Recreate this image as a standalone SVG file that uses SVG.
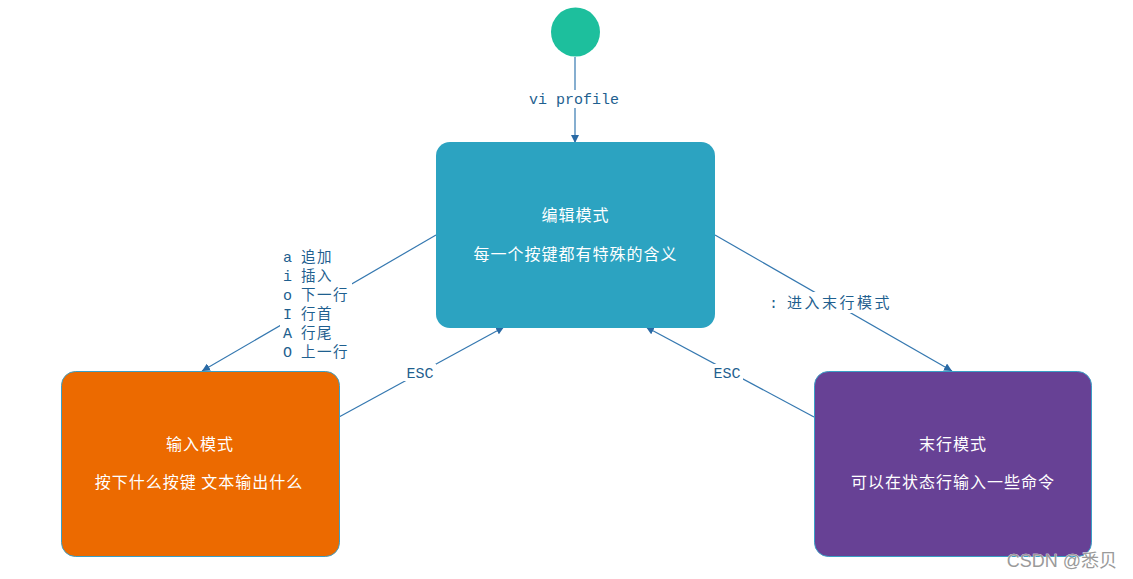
<svg xmlns="http://www.w3.org/2000/svg" width="1133" height="579" viewBox="0 0 1133 579">
<defs>
<style>
.edge{fill:none;stroke:#3578b0;stroke-width:1.2}
.lbl{font-family:"Liberation Mono","Noto Sans CJK SC",monospace;font-size:15px;fill:#1f5f8f}
.cjk{font-family:"Noto Sans CJK SC",sans-serif;font-size:14.5px;letter-spacing:1.5px}
.bg{fill:#ffffff}
.nt{font-family:"Noto Sans CJK SC",sans-serif;font-size:16px;fill:#ffffff;text-anchor:middle;letter-spacing:1px}
.box{stroke:#3a9fc6;stroke-width:1}
</style>
<marker id="arr" viewBox="0 0 10 10" refX="10" refY="5" markerWidth="8" markerHeight="8" markerUnits="userSpaceOnUse" orient="auto">
<path d="M0,0 L10,5 L0,10 z" fill="#2a6aa5"/>
</marker>
</defs>
<rect width="1133" height="579" fill="#ffffff"/>
<g id="connectors">
<line class="edge" x1="575" y1="57" x2="575" y2="143" marker-end="url(#arr)"/>
<rect class="bg" x="527" y="90" width="94" height="18"/>
<text class="lbl" x="574" y="104" text-anchor="middle">vi profile</text>
<line class="edge" x1="436" y1="235" x2="202" y2="371" marker-end="url(#arr)"/>
<rect class="bg" x="280" y="246" width="72" height="114"/>
<text class="lbl" x="283" y="262">a <tspan class="cjk">追加</tspan></text>
<text class="lbl" x="283" y="281">i <tspan class="cjk">插入</tspan></text>
<text class="lbl" x="283" y="300">o <tspan class="cjk">下一行</tspan></text>
<text class="lbl" x="283" y="319">I <tspan class="cjk">行首</tspan></text>
<text class="lbl" x="283" y="338">A <tspan class="cjk">行尾</tspan></text>
<text class="lbl" x="283" y="357">O <tspan class="cjk">上一行</tspan></text>
<line class="edge" x1="339" y1="417" x2="504" y2="327" marker-end="url(#arr)"/>
<rect class="bg" x="404" y="364" width="32" height="17"/>
<text class="lbl" x="420" y="378" text-anchor="middle">ESC</text>
<line class="edge" x1="715" y1="235" x2="952" y2="371" marker-end="url(#arr)"/>
<rect class="bg" x="766" y="292" width="130" height="21"/>
<text class="lbl" x="769" y="308">: <tspan class="cjk" style="letter-spacing:2.5px;font-size:15px">进入末行模式</tspan></text>
<line class="edge" x1="814" y1="417" x2="646" y2="327" marker-end="url(#arr)"/>
<rect class="bg" x="711" y="364" width="32" height="17"/>
<text class="lbl" x="727" y="378" text-anchor="middle">ESC</text>
</g>
<g id="start">
<circle cx="575.5" cy="32" r="24.5" fill="#1dbf9d"/>
</g>
<g id="edit">
<rect x="436" y="142" width="279" height="186" rx="14" fill="#2ca3c1"/>
<text class="nt" x="575.5" y="221">编辑模式</text>
<text class="nt" x="575.5" y="260">每一个按键都有特殊的含义</text>
</g>
<g id="input">
<rect class="box" x="61.5" y="371.5" width="278" height="185" rx="14" fill="#ec6a00"/>
<text class="nt" x="200" y="450">输入模式</text>
<text class="nt" x="199" y="488">按下什么按键 文本输出什么</text>
</g>
<g id="lastline">
<rect class="box" x="814.5" y="371.5" width="277" height="185" rx="14" fill="#674195"/>
<text class="nt" x="953" y="450">末行模式</text>
<text class="nt" x="953" y="488">可以在状态行输入一些命令</text>
</g>
<g id="watermark">
<text x="1117" y="567" text-anchor="end" font-family="'Liberation Sans','Noto Sans CJK SC',sans-serif" font-size="18" fill="#9a9a9a" stroke="#ffffff" stroke-width="0.6" paint-order="stroke">CSDN @悉贝</text>
</g>
</svg>
